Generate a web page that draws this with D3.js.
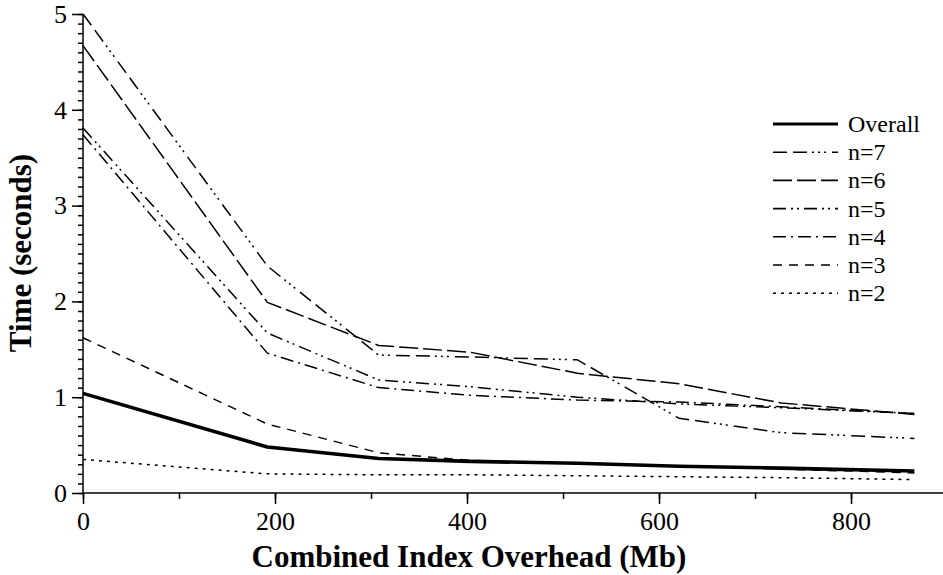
<!DOCTYPE html>
<html>
<head>
<meta charset="utf-8">
<script src="https://cdn.jsdelivr.net/npm/d3@7/dist/d3.min.js"></script>
<style>
  html, body { margin: 0; padding: 0; background: #fff; }
  svg { display: block; }
  svg text { font-family: "Liberation Serif", "Times New Roman", Times, serif !important; fill: #000; }
</style>
</head>
<body>
<svg id="chart" width="943" height="575"></svg>
<script>
const overhead = [0, 192, 308, 403, 515, 621, 727, 866];
const seriesNames = ["Overall", "n=7", "n=6", "n=5", "n=4", "n=3", "n=2"];
const overall = [1.04, 0.48, 0.36, 0.33, 0.31, 0.28, 0.26, 0.23];
const n7 = [5.00, 2.37, 1.44, 1.42, 1.39, 0.78, 0.63, 0.57];
const n6 = [4.67, 1.99, 1.54, 1.47, 1.25, 1.14, 0.94, 0.82];
const n5 = [3.81, 1.67, 1.18, 1.11, 1.00, 0.93, 0.89, 0.83];
const n4 = [3.74, 1.46, 1.10, 1.02, 0.97, 0.95, 0.90, 0.83];
const n3 = [1.62, 0.72, 0.42, 0.34, 0.31, 0.28, 0.25, 0.21];
const n2 = [0.35, 0.20, 0.19, 0.19, 0.18, 0.17, 0.16, 0.14];
const xTicks = [0, 200, 400, 600, 800];
const yTicks = [0, 1, 2, 3, 4, 5];
const xLabel = "Combined Index Overhead (Mb)";
const yLabel = "Time (seconds)";

const seriesValues = [overall, n7, n6, n5, n4, n3, n2];
const styles = [
  { w: 3.6, dash: null },
  { w: 1.5, dash: "14,6,14,5,2,4,2,4,2,6" },
  { w: 1.5, dash: "19,5" },
  { w: 1.5, dash: "13,5,2,4,2,5" },
  { w: 1.5, dash: "13,5,2,5" },
  { w: 1.5, dash: "9,7" },
  { w: 1.5, dash: "3,5" }
];

const svg = d3.select("#chart");
const x = d3.scaleLinear().domain([0, 895.8]).range([83, 943]);
const y = d3.scaleLinear().domain([0, 5]).range([493, 14]);

// X axis: minor + major ticks
const gx = svg.append("g").attr("transform", `translate(0,${y(0)})`);
gx.call(d3.axisBottom(x).tickValues(d3.range(0, 900, 100)).tickSize(6).tickFormat(""));
gx.select(".domain").remove();
gx.append("line").attr("x1", x.range()[0]).attr("x2", x.range()[1]).attr("stroke", "#000").attr("stroke-width", 1.5);
gx.selectAll(".tick line").attr("stroke", "#000").attr("stroke-width", 1.5);
const gx2 = svg.append("g").attr("transform", `translate(0,${y(0)})`);
gx2.call(d3.axisBottom(x).tickValues(xTicks).tickSize(11).tickPadding(6).tickFormat(d3.format("d")));
gx2.select(".domain").remove();
gx2.selectAll(".tick line").attr("stroke", "#000").attr("stroke-width", 1.5);
gx2.selectAll(".tick text").style("font-size", "26px").attr("dy", "0.78em");

// Y axis: minor + major ticks
const gy = svg.append("g").attr("transform", `translate(${x(0)},0)`);
gy.call(d3.axisLeft(y).tickValues(d3.range(0, 5.001, 0.1)).tickSize(5).tickFormat(""));
gy.select(".domain").remove();
gy.selectAll(".tick line").attr("stroke", "#000").attr("stroke-width", 1.5);
gy.append("line").attr("y1", y(0)).attr("y2", y(5)).attr("stroke", "#000").attr("stroke-width", 1.5);
const gy2 = svg.append("g").attr("transform", `translate(${x(0)},0)`);
gy2.call(d3.axisLeft(y).tickValues(yTicks).tickSize(11).tickPadding(5).tickFormat(d3.format("d")));
gy2.select(".domain").remove();
gy2.selectAll(".tick line").attr("stroke", "#000").attr("stroke-width", 1.5);
gy2.selectAll(".tick text").style("font-size", "26px");

// Titles
svg.append("text").attr("x", 469).attr("y", 567).attr("text-anchor", "middle")
  .style("font-size", "31px").style("font-weight", "bold").text(xLabel);
svg.append("text").attr("transform", `translate(31,253) rotate(-90)`).attr("text-anchor", "middle")
  .style("font-size", "31px").style("font-weight", "bold").text(yLabel);

// Lines
const line = d3.line().x((d, i) => x(overhead[i])).y(d => y(d));
seriesValues.forEach((vals, k) => {
  svg.append("path").datum(vals)
    .attr("d", line)
    .attr("fill", "none")
    .attr("stroke", "#000")
    .attr("stroke-width", styles[k].w)
    .attr("stroke-dasharray", styles[k].dash)
    .attr("stroke-linejoin", "round");
});

// Legend
const lg = svg.append("g");
seriesNames.forEach((name, k) => {
  const yy = 124 + k * 28.2;
  lg.append("line").attr("x1", 773).attr("x2", 838).attr("y1", yy).attr("y2", yy)
    .attr("stroke", "#000").attr("stroke-width", styles[k].w === 1.5 ? 1.6 : 3.2)
    .attr("stroke-dasharray", styles[k].dash);
  lg.append("text").attr("x", 848).attr("y", yy).attr("dy", "0.33em")
    .style("font-size", "24px").text(name);
});
</script>
</body>
</html>
